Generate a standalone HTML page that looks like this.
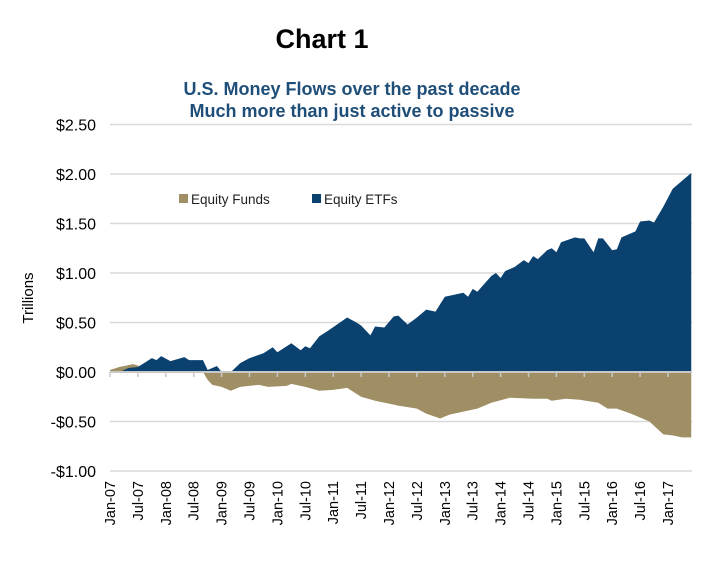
<!DOCTYPE html>
<html><head><meta charset="utf-8"><style>
body{margin:0;background:#fff;font-family:"Liberation Sans",sans-serif}
</style></head><body>
<svg width="728" height="582" xmlns="http://www.w3.org/2000/svg" font-family="Liberation Sans, sans-serif">
<text x="322" y="48" font-size="27" font-weight="bold" text-anchor="middle" fill="#000">Chart 1</text>
<text x="352" y="95" font-size="18" font-weight="bold" text-anchor="middle" fill="#1f4e79">U.S. Money Flows over the past decade</text>
<text x="352" y="117" font-size="18" font-weight="bold" text-anchor="middle" fill="#1f4e79">Much more than just active to passive</text>
<text transform="translate(33,298) rotate(-90)" font-size="15" text-anchor="middle" fill="#000">Trillions</text>
<g id="grid"></g>
<g id="areas"></g>
<g id="axis"></g>
<g>
<rect x="179" y="194" width="9" height="9" fill="#a08f65"/>
<text x="191" y="204" font-size="13.5" fill="#222">Equity Funds</text>
<rect x="312" y="194" width="9" height="9" fill="#0b416f"/>
<text x="324" y="204" font-size="13.5" fill="#222">Equity ETFs</text>
</g>
</svg>
<script>
const yTicks=[2.5,2.0,1.5,1.0,0.5,0,-0.5,-1.0];
const yTickLabels=["$2.50","$2.00","$1.50","$1.00","$0.50","$0.00","-$0.50","-$1.00"];
const xTickLabels=["Jan-07","Jul-07","Jan-08","Jul-08","Jan-09","Jul-09","Jan-10","Jul-10","Jan-11","Jul-11","Jan-12","Jul-12","Jan-13","Jul-13","Jan-14","Jul-14","Jan-15","Jul-15","Jan-16","Jul-16","Jan-17"];
const etfMonths=[0,2,4,6,9,10,11,13,16,17,19,20,21,23,24,26,28,30,33,35,36,39,41,42,43,45,47,51,53,54,56,57,59,61,62,64,66,67,68,70,72,76,77,78,79,82,83,84,85,87,89,90,91,92,94,95,96,97,100,101,102,104,105,106,108,109,110,112,113,114,116,117,119,121,123,125];
const etfValues=[0,0,0.04,0.05,0.14,0.12,0.16,0.11,0.15,0.12,0.12,0.12,0.02,0.06,0,0,0.09,0.14,0.19,0.25,0.2,0.29,0.22,0.26,0.24,0.36,0.42,0.55,0.50,0.47,0.37,0.46,0.45,0.56,0.57,0.48,0.55,0.59,0.63,0.61,0.76,0.80,0.76,0.84,0.81,0.97,1.0,0.95,1.02,1.06,1.13,1.10,1.17,1.14,1.23,1.25,1.21,1.31,1.36,1.35,1.35,1.21,1.35,1.35,1.23,1.24,1.36,1.40,1.42,1.52,1.53,1.51,1.67,1.85,1.93,2.01];
const fundMonths=[0,2,5,7,10,14,18,20,21,22,24,26,28,32,34,38,39,42,45,48,51,54,57,60,62,66,68,71,73,76,79,82,86,91,94,95,98,101,105,107,109,112,116,119,121,123,125];
const fundValues=[0.02,0.05,0.08,0.05,0.08,0.09,0.08,0,-0.08,-0.13,-0.15,-0.19,-0.15,-0.13,-0.15,-0.14,-0.12,-0.15,-0.19,-0.18,-0.16,-0.25,-0.29,-0.32,-0.34,-0.37,-0.42,-0.47,-0.43,-0.40,-0.37,-0.31,-0.26,-0.27,-0.27,-0.29,-0.27,-0.28,-0.31,-0.37,-0.37,-0.42,-0.50,-0.63,-0.64,-0.66,-0.66];

const NS="http://www.w3.org/2000/svg";
const X0=110,MW=4.65,XEND=692;
const x=m=>X0+m*MW;
const y=v=>372-v*99;
function mk(tag,attrs,parent){const e=document.createElementNS(NS,tag);for(const k in attrs)e.setAttribute(k,attrs[k]);parent.appendChild(e);return e;}
const grid=document.getElementById('grid'),areas=document.getElementById('areas'),axis=document.getElementById('axis');
yTicks.forEach((v,i)=>{
  if(v!==0){const l=mk('line',{x1:X0,x2:XEND,y1:y(v),y2:y(v),stroke:'#d9d9d9','stroke-width':1.5},grid);
  
  }
  const t=mk('text',{x:96,y:y(v)+6,'font-size':16,'text-anchor':'end',fill:'#000'},grid);
  t.textContent=yTickLabels[i];
  
  
});
function area(ms,vs,color,name){
  let d=`M${x(ms[0])},${y(0)}`;
  ms.forEach((m,i)=>{d+=` L${x(m)},${y(vs[i])}`;});
  d+=` L${x(ms[ms.length-1])},${y(0)} Z`;
  const p=mk('path',{d:d,fill:color},areas);
  
  
}
area(fundMonths,fundValues,'#a08f65','equity-funds-area');
area(etfMonths,etfValues,'#0b416f','equity-etfs-area');
const ax=mk('line',{x1:X0,x2:XEND,y1:y(0),y2:y(0),stroke:'#c8c8c8','stroke-width':2},axis);


xTickLabels.forEach((lab,i)=>{
  const xx=x(i*6);
  const tk=mk('line',{x1:xx,x2:xx,y1:y(0),y2:y(0)+5,stroke:'#c8c8c8','stroke-width':1.5},axis);
  
  
  const t=mk('text',{transform:`translate(${xx+5},481) rotate(-90)`,'font-size':14.5,'text-anchor':'end',fill:'#000'},axis);
  t.textContent=lab;
  
  
});
</script>
</body></html>
